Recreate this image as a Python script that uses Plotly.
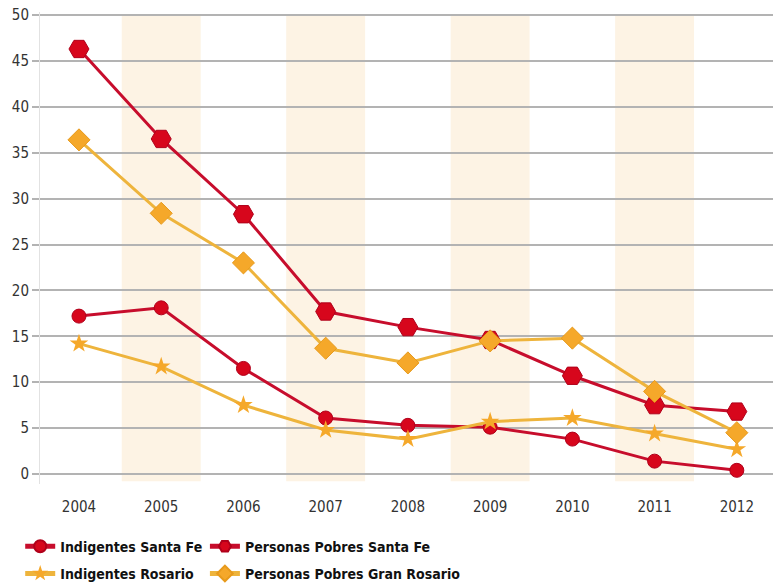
import plotly.graph_objects as go

# datos
years = [2004, 2005, 2006, 2007, 2008, 2009, 2010, 2011, 2012]
indigentes_santa_fe = [17.2, 18.1, 11.5, 6.1, 5.3, 5.1, 3.8, 1.4, 0.4]
pobres_santa_fe = [46.3, 36.5, 28.3, 17.7, 16.0, 14.6, 10.7, 7.5, 6.8]
indigentes_rosario = [14.2, 11.7, 7.5, 4.8, 3.8, 5.7, 6.1, 4.4, 2.7]
pobres_gran_rosario = [36.4, 28.4, 23.0, 13.7, 12.1, 14.5, 14.8, 9.0, 4.5]
shaded_years = [2005, 2007, 2009, 2011]
y_ticks = [0, 5, 10, 15, 20, 25, 30, 35, 40, 45, 50]

RED = "#d7061c"
RED_LINE = "#c70d2c"
ORANGE = "#f5a82a"
ORANGE_LINE = "#eeb43c"
FONT = "DejaVu Sans Condensed, sans-serif"

fig = go.Figure()

fig.add_trace(go.Scatter(
    x=years, y=indigentes_santa_fe, name="Indigentes Santa Fe",
    mode="lines+markers", legend="legend", legendgroup="a",
    line=dict(color=RED_LINE, width=3),
    marker=dict(symbol="circle", size=14, color=RED, line=dict(color="#b0001a", width=1)),
))
fig.add_trace(go.Scatter(
    x=years, y=indigentes_rosario, name="Indigentes Rosario",
    mode="lines+markers", legend="legend", legendgroup="b",
    line=dict(color=ORANGE_LINE, width=3),
    marker=dict(symbol="star", size=14, color=ORANGE, line=dict(color=ORANGE, width=0)),
))
fig.add_trace(go.Scatter(
    x=years, y=pobres_santa_fe, name="Personas Pobres Santa Fe",
    mode="lines+markers", legend="legend2", legendgroup="c",
    line=dict(color=RED_LINE, width=3),
    marker=dict(symbol="hexagon2", size=20, color=RED, line=dict(color="#b0001a", width=1)),
))
fig.add_trace(go.Scatter(
    x=years, y=pobres_gran_rosario, name="Personas Pobres Gran Rosario",
    mode="lines+markers", legend="legend2", legendgroup="d",
    line=dict(color=ORANGE_LINE, width=3),
    marker=dict(symbol="diamond", size=17, color=ORANGE, line=dict(color="#e79a1c", width=1)),
))

# franjas sombreadas
for yr in shaded_years:
    fig.add_shape(type="rect", xref="x", yref="y", x0=yr - 0.48, x1=yr + 0.48,
                  y0=-0.8, y1=50, fillcolor="#fdf3e4", line_width=0, layer="below")

legend_common = dict(
    orientation="v", xanchor="left", yanchor="top", yref="container",
    font=dict(family=FONT, size=14, color="#111111", weight="bold"),
    bgcolor="rgba(0,0,0,0)", tracegroupgap=6, traceorder="grouped",
    itemsizing="constant",
)

fig.update_layout(
    width=773, height=587,
    margin=dict(l=40, r=0, t=12, b=103, autoexpand=False),
    plot_bgcolor="white", paper_bgcolor="white",
    font=dict(family=FONT, size=15, color="#333333"),
    xaxis=dict(
        range=[2003.526, 2012.44], tickvals=years, ticktext=[str(y) for y in years],
        showgrid=False, zeroline=False, showline=False, ticks="",
        ticklabelstandoff=12, automargin=False,
        tickfont=dict(family=FONT, size=15, color="#333333"),
    ),
    yaxis=dict(
        range=[-1.09, 50.33], tickvals=y_ticks, showgrid=True,
        gridcolor="#b3b3b3", gridwidth=2, zeroline=False,
        showline=True, linecolor="#e2e2e2", linewidth=1,
        ticks="outside", ticklen=7, tickcolor="#b3b3b3", tickwidth=2,
        automargin=False,
        tickfont=dict(family=FONT, size=15, color="#333333"),
    ),
    legend=dict(x=-0.027, y=0.096, **legend_common),
    legend2=dict(x=0.225, y=0.096, **legend_common),
)

# quitar el margen por defecto del body para que el gráfico quede en (0,0)
fig.write_html("out.html", config={"displayModeBar": False},
               post_script="document.body.style.margin='0';")
